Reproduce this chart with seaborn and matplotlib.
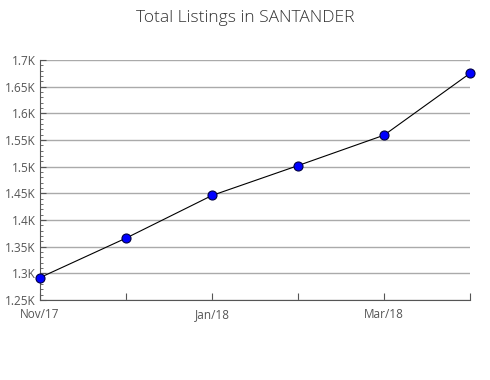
import matplotlib
matplotlib.use("Agg")
import matplotlib.pyplot as plt
import seaborn as sns
import pandas as pd
from matplotlib.ticker import FuncFormatter, MultipleLocator

months = ["Nov/17", "Dec/17", "Jan/18", "Feb/18", "Mar/18", "Apr/18"]
listings = [1292, 1366, 1446, 1502, 1559, 1675]
tick_labels = ["Nov/17", "", "Jan/18", "", "Mar/18", ""]

sns.set_style("white")
plt.rcParams["font.family"] = ["Open Sans", "DejaVu Sans"]

df = pd.DataFrame({"idx": range(len(months)), "listings": listings})

fig = plt.figure(figsize=(4.9, 3.8), dpi=100)
ax = fig.add_axes([40/490, 1-300/380, 430/490, 240/380])

sns.lineplot(data=df, x="idx", y="listings", ax=ax, color="black", linewidth=0.8,
             marker="o", markersize=6.5, markerfacecolor="#0000ff",
             markeredgecolor="#000044", markeredgewidth=0.8, clip_on=False, zorder=3)

ax.set_xlim(0, len(months) - 1)
ax.set_ylim(1250, 1700)
ax.yaxis.set_major_locator(MultipleLocator(50))
ax.yaxis.set_minor_locator(MultipleLocator(10))
ax.yaxis.set_major_formatter(FuncFormatter(lambda v, p: f"{v/1000:g}K"))
ax.set_xticks(range(len(months)))
ax.set_xticklabels(tick_labels)
ax.set_xlabel("")
ax.set_ylabel("")
ax.grid(axis="y", color="#aaaaaa", linewidth=1)
ax.set_axisbelow(True)
for s in ["top", "right"]:
    ax.spines[s].set_visible(False)
for s in ["left", "bottom"]:
    ax.spines[s].set_color("#555555")
    ax.spines[s].set_linewidth(0.8)
ax.tick_params(axis="y", which="major", direction="in", length=4, color="#555555",
               labelsize=8.5, labelcolor="#555555", pad=3, left=True)
ax.tick_params(axis="y", which="minor", direction="in", length=2, color="#555555", left=True)
ax.tick_params(axis="x", which="major", direction="in", length=5, color="#555555",
               labelsize=8.5, labelcolor="#555555", pad=6, bottom=True)

fig.suptitle("Total Listings in SANTANDER", x=0.5, y=0.975, fontsize=12.5,
             color="#333333", fontweight="light")

fig.savefig("out.png", dpi=100)
